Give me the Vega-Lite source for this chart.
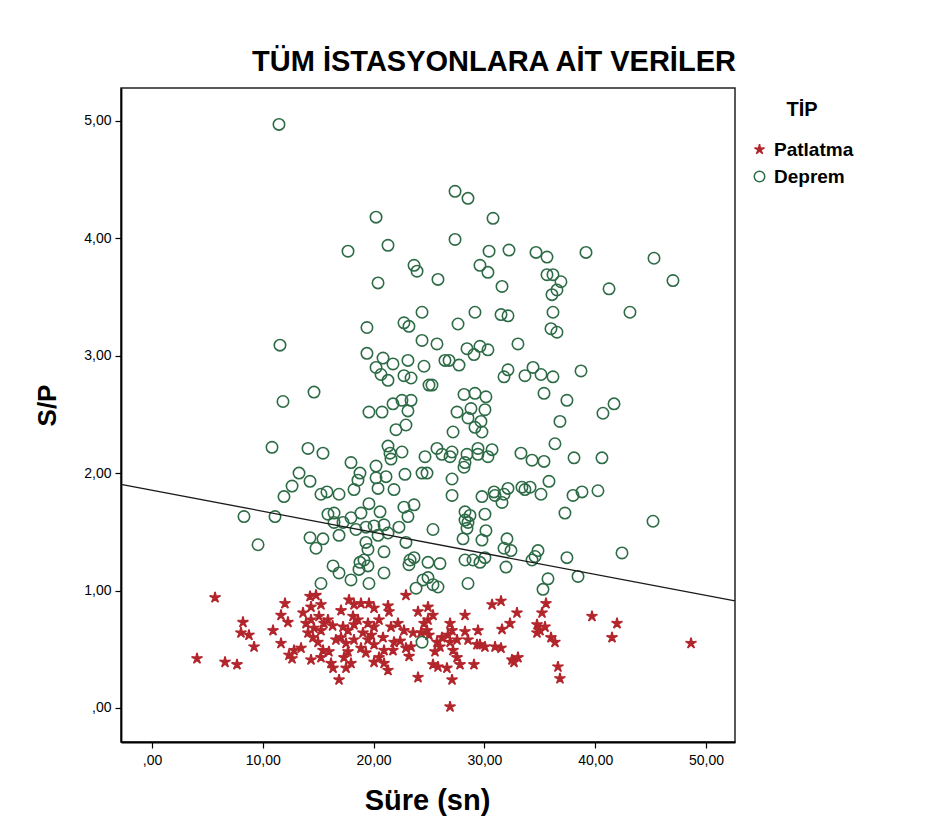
{
  "$schema": "https://vega.github.io/schema/vega-lite/v6.json",
  "autosize": "none",
  "width": 614,
  "height": 654,
  "padding": {"left": 121, "top": 88, "right": 195, "bottom": 97},
  "background": "white",
  "title": {"text": "TÜM İSTASYONLARA AİT VERİLER", "font": "Liberation Sans", "fontSize": 29, "fontWeight": "bold", "color": "black", "anchor": "middle", "frame": "group", "dx": 66, "offset": 11},
  "datasets": {
    "pts": [
      {"x":5.69,"y":0.94,"t":"Patlatma"},{"x":12.00,"y":0.89,"t":"Patlatma"},{"x":14.26,"y":0.95,"t":"Patlatma"},{"x":14.80,"y":0.96,"t":"Patlatma"},{"x":15.25,"y":0.88,"t":"Patlatma"},{"x":14.35,"y":0.86,"t":"Patlatma"},{"x":13.63,"y":0.81,"t":"Patlatma"},{"x":11.64,"y":0.79,"t":"Patlatma"},{"x":12.27,"y":0.73,"t":"Patlatma"},{"x":8.21,"y":0.73,"t":"Patlatma"},
      {"x":10.92,"y":0.66,"t":"Patlatma"},{"x":8.03,"y":0.64,"t":"Patlatma"},{"x":8.75,"y":0.62,"t":"Patlatma"},{"x":9.21,"y":0.52,"t":"Patlatma"},{"x":11.64,"y":0.55,"t":"Patlatma"},{"x":4.06,"y":0.42,"t":"Patlatma"},{"x":6.59,"y":0.39,"t":"Patlatma"},{"x":7.67,"y":0.37,"t":"Patlatma"},{"x":12.82,"y":0.49,"t":"Patlatma"},{"x":12.36,"y":0.45,"t":"Patlatma"},
      {"x":12.64,"y":0.42,"t":"Patlatma"},{"x":13.45,"y":0.51,"t":"Patlatma"},{"x":14.08,"y":0.64,"t":"Patlatma"},{"x":14.62,"y":0.68,"t":"Patlatma"},{"x":15.25,"y":0.66,"t":"Patlatma"},{"x":14.53,"y":0.60,"t":"Patlatma"},{"x":15.52,"y":0.72,"t":"Patlatma"},{"x":15.88,"y":0.75,"t":"Patlatma"},{"x":15.07,"y":0.78,"t":"Patlatma"},{"x":13.90,"y":0.72,"t":"Patlatma"},
      {"x":14.35,"y":0.75,"t":"Patlatma"},{"x":14.98,"y":0.56,"t":"Patlatma"},{"x":15.43,"y":0.49,"t":"Patlatma"},{"x":15.97,"y":0.48,"t":"Patlatma"},{"x":15.25,"y":0.43,"t":"Patlatma"},{"x":14.35,"y":0.41,"t":"Patlatma"},{"x":16.16,"y":0.38,"t":"Patlatma"},{"x":16.34,"y":0.34,"t":"Patlatma"},{"x":16.88,"y":0.24,"t":"Patlatma"},{"x":17.06,"y":0.83,"t":"Patlatma"},
      {"x":17.78,"y":0.92,"t":"Patlatma"},{"x":18.23,"y":0.88,"t":"Patlatma"},{"x":18.86,"y":0.89,"t":"Patlatma"},{"x":19.58,"y":0.89,"t":"Patlatma"},{"x":20.04,"y":0.85,"t":"Patlatma"},{"x":21.30,"y":0.87,"t":"Patlatma"},{"x":21.39,"y":0.82,"t":"Patlatma"},{"x":17.24,"y":0.69,"t":"Patlatma"},{"x":17.69,"y":0.66,"t":"Patlatma"},{"x":18.14,"y":0.78,"t":"Patlatma"},
      {"x":18.59,"y":0.75,"t":"Patlatma"},{"x":18.23,"y":0.71,"t":"Patlatma"},{"x":19.49,"y":0.72,"t":"Patlatma"},{"x":20.04,"y":0.69,"t":"Patlatma"},{"x":20.49,"y":0.75,"t":"Patlatma"},{"x":19.04,"y":0.64,"t":"Patlatma"},{"x":17.06,"y":0.60,"t":"Patlatma"},{"x":17.51,"y":0.55,"t":"Patlatma"},{"x":18.23,"y":0.58,"t":"Patlatma"},{"x":18.86,"y":0.51,"t":"Patlatma"},
      {"x":17.69,"y":0.48,"t":"Patlatma"},{"x":17.33,"y":0.43,"t":"Patlatma"},{"x":17.96,"y":0.38,"t":"Patlatma"},{"x":17.51,"y":0.34,"t":"Patlatma"},{"x":19.49,"y":0.58,"t":"Patlatma"},{"x":20.04,"y":0.54,"t":"Patlatma"},{"x":20.85,"y":0.60,"t":"Patlatma"},{"x":20.94,"y":0.49,"t":"Patlatma"},{"x":20.49,"y":0.43,"t":"Patlatma"},{"x":20.04,"y":0.39,"t":"Patlatma"},
      {"x":20.94,"y":0.38,"t":"Patlatma"},{"x":21.30,"y":0.32,"t":"Patlatma"},{"x":22.20,"y":0.72,"t":"Patlatma"},{"x":22.74,"y":0.66,"t":"Patlatma"},{"x":22.92,"y":0.96,"t":"Patlatma"},{"x":24.01,"y":0.82,"t":"Patlatma"},{"x":24.91,"y":0.86,"t":"Patlatma"},{"x":24.55,"y":0.72,"t":"Patlatma"},{"x":23.56,"y":0.64,"t":"Patlatma"},{"x":24.28,"y":0.64,"t":"Patlatma"},
      {"x":25.00,"y":0.62,"t":"Patlatma"},{"x":22.92,"y":0.51,"t":"Patlatma"},{"x":23.38,"y":0.52,"t":"Patlatma"},{"x":24.01,"y":0.26,"t":"Patlatma"},{"x":21.57,"y":0.69,"t":"Patlatma"},{"x":21.84,"y":0.56,"t":"Patlatma"},{"x":21.75,"y":0.49,"t":"Patlatma"},{"x":25.36,"y":0.79,"t":"Patlatma"},{"x":24.91,"y":0.75,"t":"Patlatma"},{"x":24.82,"y":0.66,"t":"Patlatma"},
      {"x":25.72,"y":0.56,"t":"Patlatma"},{"x":26.17,"y":0.60,"t":"Patlatma"},{"x":25.99,"y":0.52,"t":"Patlatma"},{"x":26.90,"y":0.72,"t":"Patlatma"},{"x":27.08,"y":0.66,"t":"Patlatma"},{"x":26.71,"y":0.62,"t":"Patlatma"},{"x":26.90,"y":0.56,"t":"Patlatma"},{"x":27.53,"y":0.58,"t":"Patlatma"},{"x":27.17,"y":0.49,"t":"Patlatma"},{"x":27.53,"y":0.43,"t":"Patlatma"},
      {"x":25.54,"y":0.48,"t":"Patlatma"},{"x":25.36,"y":0.37,"t":"Patlatma"},{"x":25.81,"y":0.35,"t":"Patlatma"},{"x":26.62,"y":0.34,"t":"Patlatma"},{"x":27.08,"y":0.24,"t":"Patlatma"},{"x":26.90,"y":0.01,"t":"Patlatma"},{"x":27.80,"y":0.37,"t":"Patlatma"},{"x":28.25,"y":0.79,"t":"Patlatma"},{"x":28.25,"y":0.65,"t":"Patlatma"},{"x":28.52,"y":0.58,"t":"Patlatma"},
      {"x":29.06,"y":0.37,"t":"Patlatma"},{"x":29.42,"y":0.66,"t":"Patlatma"},{"x":29.60,"y":0.54,"t":"Patlatma"},{"x":29.33,"y":0.54,"t":"Patlatma"},{"x":30.05,"y":0.52,"t":"Patlatma"},{"x":30.69,"y":0.88,"t":"Patlatma"},{"x":31.50,"y":0.91,"t":"Patlatma"},{"x":32.94,"y":0.81,"t":"Patlatma"},{"x":32.31,"y":0.72,"t":"Patlatma"},{"x":31.59,"y":0.67,"t":"Patlatma"},
      {"x":30.96,"y":0.52,"t":"Patlatma"},{"x":31.50,"y":0.51,"t":"Patlatma"},{"x":32.49,"y":0.41,"t":"Patlatma"},{"x":33.03,"y":0.43,"t":"Patlatma"},{"x":32.67,"y":0.39,"t":"Patlatma"},{"x":35.56,"y":0.89,"t":"Patlatma"},{"x":35.20,"y":0.81,"t":"Patlatma"},{"x":34.75,"y":0.71,"t":"Patlatma"},{"x":35.02,"y":0.66,"t":"Patlatma"},{"x":35.47,"y":0.69,"t":"Patlatma"},
      {"x":34.75,"y":0.64,"t":"Patlatma"},{"x":36.01,"y":0.60,"t":"Patlatma"},{"x":36.37,"y":0.56,"t":"Patlatma"},{"x":36.64,"y":0.35,"t":"Patlatma"},{"x":36.82,"y":0.25,"t":"Patlatma"},{"x":39.71,"y":0.78,"t":"Patlatma"},{"x":41.97,"y":0.72,"t":"Patlatma"},{"x":41.52,"y":0.60,"t":"Patlatma"},{"x":48.65,"y":0.55,"t":"Patlatma"},
      {"x":16.3,"y":0.70,"t":"Patlatma"},{"x":16.6,"y":0.58,"t":"Patlatma"},{"x":19.3,"y":0.47,"t":"Patlatma"},{"x":22.4,"y":0.57,"t":"Patlatma"},{"x":23.2,"y":0.44,"t":"Patlatma"},{"x":19.8,"y":0.62,"t":"Patlatma"},

      {"x":11.46,"y":4.97,"t":"Deprem"},{"x":20.22,"y":4.18,"t":"Deprem"},{"x":17.69,"y":3.89,"t":"Deprem"},{"x":21.30,"y":3.94,"t":"Deprem"},{"x":23.65,"y":3.77,"t":"Deprem"},{"x":23.92,"y":3.72,"t":"Deprem"},{"x":20.40,"y":3.62,"t":"Deprem"},
      {"x":27.35,"y":4.40,"t":"Deprem"},{"x":28.52,"y":4.34,"t":"Deprem"},{"x":30.78,"y":4.17,"t":"Deprem"},{"x":27.35,"y":3.99,"t":"Deprem"},{"x":30.42,"y":3.89,"t":"Deprem"},{"x":32.22,"y":3.90,"t":"Deprem"},{"x":34.66,"y":3.88,"t":"Deprem"},{"x":35.65,"y":3.84,"t":"Deprem"},{"x":39.17,"y":3.88,"t":"Deprem"},{"x":45.31,"y":3.83,"t":"Deprem"},
      {"x":29.60,"y":3.77,"t":"Deprem"},{"x":30.32,"y":3.71,"t":"Deprem"},{"x":25.81,"y":3.65,"t":"Deprem"},{"x":31.59,"y":3.59,"t":"Deprem"},{"x":35.65,"y":3.69,"t":"Deprem"},{"x":36.19,"y":3.69,"t":"Deprem"},{"x":36.91,"y":3.63,"t":"Deprem"},{"x":36.55,"y":3.56,"t":"Deprem"},{"x":36.10,"y":3.52,"t":"Deprem"},{"x":41.25,"y":3.57,"t":"Deprem"},{"x":47.02,"y":3.64,"t":"Deprem"},
      {"x":24.37,"y":3.37,"t":"Deprem"},{"x":19.40,"y":3.24,"t":"Deprem"},{"x":22.74,"y":3.28,"t":"Deprem"},{"x":23.19,"y":3.25,"t":"Deprem"},{"x":24.37,"y":3.13,"t":"Deprem"},{"x":11.55,"y":3.09,"t":"Deprem"},{"x":19.40,"y":3.02,"t":"Deprem"},{"x":20.85,"y":2.98,"t":"Deprem"},{"x":21.75,"y":2.93,"t":"Deprem"},{"x":23.10,"y":2.96,"t":"Deprem"},
      {"x":24.55,"y":2.91,"t":"Deprem"},{"x":20.22,"y":2.90,"t":"Deprem"},{"x":20.67,"y":2.84,"t":"Deprem"},{"x":21.30,"y":2.79,"t":"Deprem"},{"x":22.74,"y":2.83,"t":"Deprem"},{"x":23.38,"y":2.81,"t":"Deprem"},{"x":25.00,"y":2.75,"t":"Deprem"},{"x":14.62,"y":2.69,"t":"Deprem"},{"x":11.82,"y":2.61,"t":"Deprem"},{"x":19.58,"y":2.52,"t":"Deprem"},
      {"x":20.76,"y":2.52,"t":"Deprem"},{"x":21.75,"y":2.59,"t":"Deprem"},{"x":22.56,"y":2.62,"t":"Deprem"},{"x":23.38,"y":2.62,"t":"Deprem"},{"x":23.10,"y":2.53,"t":"Deprem"},{"x":22.92,"y":2.41,"t":"Deprem"},{"x":22.02,"y":2.37,"t":"Deprem"},{"x":10.83,"y":2.22,"t":"Deprem"},{"x":14.08,"y":2.21,"t":"Deprem"},{"x":15.43,"y":2.17,"t":"Deprem"},
      {"x":21.30,"y":2.23,"t":"Deprem"},{"x":21.48,"y":2.17,"t":"Deprem"},{"x":21.57,"y":2.12,"t":"Deprem"},{"x":22.56,"y":2.18,"t":"Deprem"},{"x":24.64,"y":2.14,"t":"Deprem"},{"x":17.96,"y":2.09,"t":"Deprem"},{"x":20.22,"y":2.06,"t":"Deprem"},{"x":13.27,"y":2.00,"t":"Deprem"},{"x":14.26,"y":1.93,"t":"Deprem"},{"x":12.64,"y":1.89,"t":"Deprem"},
      {"x":18.77,"y":2.00,"t":"Deprem"},{"x":18.59,"y":1.94,"t":"Deprem"},{"x":20.22,"y":1.96,"t":"Deprem"},{"x":21.12,"y":1.97,"t":"Deprem"},{"x":22.83,"y":1.99,"t":"Deprem"},{"x":24.37,"y":2.00,"t":"Deprem"},{"x":15.79,"y":1.84,"t":"Deprem"},{"x":16.88,"y":1.82,"t":"Deprem"},{"x":18.23,"y":1.86,"t":"Deprem"},{"x":20.40,"y":1.87,"t":"Deprem"},
      {"x":21.84,"y":1.86,"t":"Deprem"},{"x":11.91,"y":1.80,"t":"Deprem"},
      {"x":29.15,"y":3.37,"t":"Deprem"},{"x":31.50,"y":3.35,"t":"Deprem"},{"x":32.13,"y":3.34,"t":"Deprem"},{"x":36.19,"y":3.37,"t":"Deprem"},{"x":43.14,"y":3.37,"t":"Deprem"},{"x":27.62,"y":3.27,"t":"Deprem"},{"x":36.01,"y":3.23,"t":"Deprem"},{"x":36.55,"y":3.20,"t":"Deprem"},{"x":25.72,"y":3.10,"t":"Deprem"},{"x":28.43,"y":3.06,"t":"Deprem"},
      {"x":29.60,"y":3.08,"t":"Deprem"},{"x":30.32,"y":3.05,"t":"Deprem"},{"x":29.06,"y":3.01,"t":"Deprem"},{"x":33.03,"y":3.10,"t":"Deprem"},{"x":26.44,"y":2.96,"t":"Deprem"},{"x":26.81,"y":2.96,"t":"Deprem"},{"x":27.71,"y":2.92,"t":"Deprem"},{"x":25.27,"y":2.75,"t":"Deprem"},{"x":32.13,"y":2.88,"t":"Deprem"},{"x":31.77,"y":2.82,"t":"Deprem"},
      {"x":33.66,"y":2.83,"t":"Deprem"},{"x":34.39,"y":2.90,"t":"Deprem"},{"x":35.11,"y":2.84,"t":"Deprem"},{"x":36.19,"y":2.82,"t":"Deprem"},{"x":38.72,"y":2.87,"t":"Deprem"},{"x":35.38,"y":2.68,"t":"Deprem"},{"x":37.45,"y":2.62,"t":"Deprem"},{"x":41.70,"y":2.59,"t":"Deprem"},{"x":40.70,"y":2.51,"t":"Deprem"},{"x":28.16,"y":2.67,"t":"Deprem"},
      {"x":29.15,"y":2.68,"t":"Deprem"},{"x":30.14,"y":2.65,"t":"Deprem"},{"x":27.53,"y":2.52,"t":"Deprem"},{"x":28.79,"y":2.55,"t":"Deprem"},{"x":30.05,"y":2.54,"t":"Deprem"},{"x":28.52,"y":2.47,"t":"Deprem"},{"x":29.69,"y":2.44,"t":"Deprem"},{"x":29.15,"y":2.39,"t":"Deprem"},{"x":29.78,"y":2.35,"t":"Deprem"},{"x":27.17,"y":2.35,"t":"Deprem"},
      {"x":36.82,"y":2.44,"t":"Deprem"},{"x":36.37,"y":2.25,"t":"Deprem"},{"x":40.61,"y":2.13,"t":"Deprem"},{"x":38.09,"y":2.13,"t":"Deprem"},{"x":33.30,"y":2.17,"t":"Deprem"},{"x":34.30,"y":2.11,"t":"Deprem"},{"x":35.38,"y":2.10,"t":"Deprem"},{"x":25.72,"y":2.21,"t":"Deprem"},{"x":26.17,"y":2.16,"t":"Deprem"},{"x":27.08,"y":2.18,"t":"Deprem"},
      {"x":26.90,"y":2.14,"t":"Deprem"},{"x":28.43,"y":2.16,"t":"Deprem"},{"x":28.25,"y":2.09,"t":"Deprem"},{"x":28.16,"y":2.05,"t":"Deprem"},{"x":29.42,"y":2.21,"t":"Deprem"},{"x":29.42,"y":2.16,"t":"Deprem"},{"x":30.69,"y":2.20,"t":"Deprem"},{"x":30.32,"y":2.14,"t":"Deprem"},{"x":24.82,"y":2.00,"t":"Deprem"},{"x":27.08,"y":1.95,"t":"Deprem"},
      {"x":27.08,"y":1.81,"t":"Deprem"},{"x":29.78,"y":1.80,"t":"Deprem"},{"x":30.87,"y":1.84,"t":"Deprem"},{"x":31.77,"y":1.82,"t":"Deprem"},{"x":32.13,"y":1.87,"t":"Deprem"},{"x":33.39,"y":1.88,"t":"Deprem"},{"x":34.12,"y":1.88,"t":"Deprem"},{"x":35.11,"y":1.82,"t":"Deprem"},{"x":35.83,"y":1.93,"t":"Deprem"},{"x":38.00,"y":1.81,"t":"Deprem"},
      {"x":38.81,"y":1.84,"t":"Deprem"},{"x":40.25,"y":1.85,"t":"Deprem"},
      {"x":8.30,"y":1.63,"t":"Deprem"},{"x":11.10,"y":1.63,"t":"Deprem"},{"x":9.57,"y":1.39,"t":"Deprem"},{"x":15.25,"y":1.82,"t":"Deprem"},{"x":15.88,"y":1.65,"t":"Deprem"},{"x":16.43,"y":1.66,"t":"Deprem"},{"x":17.24,"y":1.58,"t":"Deprem"},{"x":16.43,"y":1.58,"t":"Deprem"},{"x":17.96,"y":1.62,"t":"Deprem"},{"x":18.86,"y":1.66,"t":"Deprem"},
      {"x":19.58,"y":1.74,"t":"Deprem"},{"x":20.58,"y":1.67,"t":"Deprem"},{"x":18.41,"y":1.52,"t":"Deprem"},{"x":19.31,"y":1.54,"t":"Deprem"},{"x":20.04,"y":1.55,"t":"Deprem"},{"x":20.94,"y":1.56,"t":"Deprem"},{"x":20.40,"y":1.47,"t":"Deprem"},{"x":21.30,"y":1.49,"t":"Deprem"},{"x":22.29,"y":1.54,"t":"Deprem"},{"x":22.74,"y":1.71,"t":"Deprem"},
      {"x":23.65,"y":1.73,"t":"Deprem"},{"x":23.10,"y":1.63,"t":"Deprem"},{"x":14.26,"y":1.45,"t":"Deprem"},{"x":15.43,"y":1.44,"t":"Deprem"},{"x":14.80,"y":1.36,"t":"Deprem"},{"x":16.88,"y":1.47,"t":"Deprem"},{"x":19.31,"y":1.41,"t":"Deprem"},{"x":19.49,"y":1.35,"t":"Deprem"},{"x":19.13,"y":1.26,"t":"Deprem"},{"x":18.77,"y":1.24,"t":"Deprem"},
      {"x":19.49,"y":1.21,"t":"Deprem"},{"x":20.94,"y":1.33,"t":"Deprem"},{"x":22.92,"y":1.41,"t":"Deprem"},{"x":23.29,"y":1.26,"t":"Deprem"},{"x":23.65,"y":1.28,"t":"Deprem"},{"x":23.19,"y":1.22,"t":"Deprem"},{"x":24.91,"y":1.24,"t":"Deprem"},{"x":16.34,"y":1.21,"t":"Deprem"},{"x":16.88,"y":1.15,"t":"Deprem"},{"x":17.96,"y":1.09,"t":"Deprem"},
      {"x":19.58,"y":1.06,"t":"Deprem"},{"x":20.94,"y":1.15,"t":"Deprem"},{"x":15.25,"y":1.06,"t":"Deprem"},{"x":18.68,"y":1.18,"t":"Deprem"},{"x":23.83,"y":1.02,"t":"Deprem"},{"x":24.46,"y":1.09,"t":"Deprem"},{"x":24.91,"y":1.11,"t":"Deprem"},
      {"x":30.96,"y":1.81,"t":"Deprem"},{"x":31.59,"y":1.75,"t":"Deprem"},{"x":33.66,"y":1.86,"t":"Deprem"},{"x":37.27,"y":1.66,"t":"Deprem"},{"x":45.22,"y":1.59,"t":"Deprem"},{"x":28.25,"y":1.67,"t":"Deprem"},{"x":28.70,"y":1.64,"t":"Deprem"},{"x":28.25,"y":1.60,"t":"Deprem"},{"x":28.52,"y":1.58,"t":"Deprem"},{"x":28.43,"y":1.53,"t":"Deprem"},
      {"x":30.05,"y":1.65,"t":"Deprem"},{"x":25.36,"y":1.52,"t":"Deprem"},{"x":28.07,"y":1.44,"t":"Deprem"},{"x":29.78,"y":1.43,"t":"Deprem"},{"x":30.14,"y":1.51,"t":"Deprem"},{"x":32.04,"y":1.44,"t":"Deprem"},{"x":31.77,"y":1.36,"t":"Deprem"},{"x":32.40,"y":1.34,"t":"Deprem"},{"x":42.42,"y":1.32,"t":"Deprem"},{"x":37.45,"y":1.28,"t":"Deprem"},
      {"x":34.84,"y":1.34,"t":"Deprem"},{"x":34.57,"y":1.29,"t":"Deprem"},{"x":34.30,"y":1.26,"t":"Deprem"},{"x":38.45,"y":1.12,"t":"Deprem"},{"x":25.99,"y":1.23,"t":"Deprem"},{"x":28.25,"y":1.26,"t":"Deprem"},{"x":28.97,"y":1.26,"t":"Deprem"},{"x":29.60,"y":1.24,"t":"Deprem"},{"x":30.05,"y":1.28,"t":"Deprem"},{"x":31.95,"y":1.20,"t":"Deprem"},
      {"x":25.36,"y":1.05,"t":"Deprem"},{"x":25.81,"y":1.03,"t":"Deprem"},{"x":28.52,"y":1.06,"t":"Deprem"},{"x":35.74,"y":1.10,"t":"Deprem"},{"x":35.29,"y":1.01,"t":"Deprem"},{"x":24.37,"y":0.56,"t":"Deprem"}
    ],
    "fit": [{"x": -2.8, "y": 1.905}, {"x": 52.62, "y": 0.911}]
  },
  "layer": [
    {
      "data": {"name": "pts"},
      "mark": {"type": "point", "filled": false, "strokeWidth": 1.6, "opacity": 1},
      "encoding": {
        "x": {"field": "x", "type": "quantitative", "scale": {"domain": [-2.8, 52.62], "nice": false, "zero": false},
          "axis": {"values": [0, 10, 20, 30, 40, 50], "labelExpr": "datum.value == 0 ? ',00' : replace(format(datum.value, '.2f'), '.', ',')", "title": "Süre (sn)", "titleFontSize": 29, "titleX": 306, "titleY": 58, "titleAlign": "center", "titleBaseline": "middle", "labelPadding": 5}},
        "y": {"field": "y", "type": "quantitative", "scale": {"domain": [-0.29, 5.28], "nice": false, "zero": false},
          "axis": {"values": [0, 1, 2, 3, 4, 5], "labelExpr": "datum.value == 0 ? ',00' : replace(format(datum.value, '.2f'), '.', ',')", "title": "S/P", "titleFontSize": 26, "titleAngle": -90, "titleX": -74, "titleY": 317, "titleAlign": "center", "titleBaseline": "middle", "labelPadding": 4}},
        "shape": {"field": "t", "type": "nominal", "scale": {"domain": ["Patlatma", "Deprem"], "range": ["M0,-1L0.17,-0.24L0.95,-0.31L0.27,0.09L0.59,0.81L0,0.29L-0.59,0.81L-0.27,0.09L-0.95,-0.31L-0.17,-0.24Z", "circle"]},
          "legend": {"title": "TİP"}},
        "stroke": {"field": "t", "type": "nominal", "scale": {"domain": ["Patlatma", "Deprem"], "range": ["#b2262c", "#2d6b46"]}, "legend": {"title": "TİP"}},
        "fill": {"field": "t", "type": "nominal", "scale": {"domain": ["Patlatma", "Deprem"], "range": ["#b2262c", "transparent"]}, "legend": {"title": "TİP"}},
        "size": {"value": 130}
      }
    },
    {
      "data": {"name": "fit"},
      "mark": {"type": "line", "color": "#1a1a1a", "strokeWidth": 1.3},
      "encoding": {
        "x": {"field": "x", "type": "quantitative"},
        "y": {"field": "y", "type": "quantitative"}
      }
    }
  ],
  "config": {
    "view": {"stroke": "#222", "strokeWidth": 1.5},
    "axis": {"grid": false, "labelFont": "Liberation Sans", "labelFontSize": 14, "labelColor": "black", "tickColor": "black", "tickSize": 6, "tickWidth": 1.2, "domainColor": "black", "domainWidth": 1.8, "titleFont": "Liberation Sans", "titleFontWeight": "bold", "titleColor": "black"},
    "legend": {"orient": "none", "legendX": 629, "legendY": 12, "titleFont": "Liberation Sans", "titleFontSize": 20, "titleFontWeight": "bold", "titleColor": "black", "titleAnchor": "middle", "titlePadding": 20, "labelFont": "Liberation Sans", "labelFontSize": 19, "labelFontWeight": "bold", "labelColor": "black", "labelOffset": 5, "symbolSize": 110, "symbolStrokeWidth": 1.5, "rowPadding": 7}
  }
}
